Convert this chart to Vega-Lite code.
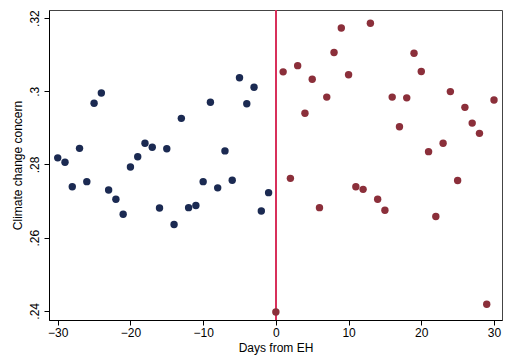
{
  "$schema": "https://vega.github.io/schema/vega-lite/v6.json",
  "autosize": "none",
  "width": 453,
  "height": 310,
  "padding": {"left": 49, "top": 10, "right": 3, "bottom": 36},
  "background": "white",
  "config": {
    "view": {"stroke": "#444", "strokeWidth": 1},
    "font": "Liberation Sans",
    "axis": {
      "grid": false,
      "domainColor": "black",
      "tickColor": "black",
      "labelColor": "black",
      "titleColor": "black",
      "labelFontSize": 12,
      "titleFontSize": 12,
      "titleFontWeight": "normal",
      "tickSize": 5
    }
  },
  "data": {
    "values": [
      {"day": -30, "concern": 0.2818, "group": "pre"},
      {"day": -29, "concern": 0.2806, "group": "pre"},
      {"day": -28, "concern": 0.2739, "group": "pre"},
      {"day": -27, "concern": 0.2844, "group": "pre"},
      {"day": -26, "concern": 0.2753, "group": "pre"},
      {"day": -25, "concern": 0.2967, "group": "pre"},
      {"day": -24, "concern": 0.2995, "group": "pre"},
      {"day": -23, "concern": 0.2730, "group": "pre"},
      {"day": -22, "concern": 0.2705, "group": "pre"},
      {"day": -21, "concern": 0.2664, "group": "pre"},
      {"day": -20, "concern": 0.2793, "group": "pre"},
      {"day": -19, "concern": 0.2821, "group": "pre"},
      {"day": -18, "concern": 0.2858, "group": "pre"},
      {"day": -17, "concern": 0.2847, "group": "pre"},
      {"day": -16, "concern": 0.2681, "group": "pre"},
      {"day": -15, "concern": 0.2843, "group": "pre"},
      {"day": -14, "concern": 0.2636, "group": "pre"},
      {"day": -13, "concern": 0.2926, "group": "pre"},
      {"day": -12, "concern": 0.2682, "group": "pre"},
      {"day": -11, "concern": 0.2688, "group": "pre"},
      {"day": -10, "concern": 0.2753, "group": "pre"},
      {"day": -9, "concern": 0.2970, "group": "pre"},
      {"day": -8, "concern": 0.2736, "group": "pre"},
      {"day": -7, "concern": 0.2837, "group": "pre"},
      {"day": -6, "concern": 0.2757, "group": "pre"},
      {"day": -5, "concern": 0.3037, "group": "pre"},
      {"day": -4, "concern": 0.2966, "group": "pre"},
      {"day": -3, "concern": 0.3011, "group": "pre"},
      {"day": -2, "concern": 0.2673, "group": "pre"},
      {"day": -1, "concern": 0.2723, "group": "pre"},
      {"day": 0, "concern": 0.2397, "group": "post"},
      {"day": 1, "concern": 0.3053, "group": "post"},
      {"day": 2, "concern": 0.2762, "group": "post"},
      {"day": 3, "concern": 0.3070, "group": "post"},
      {"day": 4, "concern": 0.2940, "group": "post"},
      {"day": 5, "concern": 0.3033, "group": "post"},
      {"day": 6, "concern": 0.2682, "group": "post"},
      {"day": 7, "concern": 0.2984, "group": "post"},
      {"day": 8, "concern": 0.3106, "group": "post"},
      {"day": 9, "concern": 0.3173, "group": "post"},
      {"day": 10, "concern": 0.3045, "group": "post"},
      {"day": 11, "concern": 0.2739, "group": "post"},
      {"day": 12, "concern": 0.2732, "group": "post"},
      {"day": 13, "concern": 0.3186, "group": "post"},
      {"day": 14, "concern": 0.2705, "group": "post"},
      {"day": 15, "concern": 0.2675, "group": "post"},
      {"day": 16, "concern": 0.2984, "group": "post"},
      {"day": 17, "concern": 0.2903, "group": "post"},
      {"day": 18, "concern": 0.2982, "group": "post"},
      {"day": 19, "concern": 0.3104, "group": "post"},
      {"day": 20, "concern": 0.3054, "group": "post"},
      {"day": 21, "concern": 0.2835, "group": "post"},
      {"day": 22, "concern": 0.2658, "group": "post"},
      {"day": 23, "concern": 0.2858, "group": "post"},
      {"day": 24, "concern": 0.2999, "group": "post"},
      {"day": 25, "concern": 0.2756, "group": "post"},
      {"day": 26, "concern": 0.2956, "group": "post"},
      {"day": 27, "concern": 0.2913, "group": "post"},
      {"day": 28, "concern": 0.2885, "group": "post"},
      {"day": 29, "concern": 0.2418, "group": "post"},
      {"day": 30, "concern": 0.2976, "group": "post"}
    ]
  },
  "layer": [
    {
      "mark": {"type": "rule", "color": "#d8315b", "strokeWidth": 1.2},
      "encoding": {"x": {"datum": 0, "type": "quantitative", "scale": {"domain": [-31.2, 31.1], "nice": false}}}
    },
    {
      "mark": {"type": "circle", "size": 55, "opacity": 1},
      "encoding": {
        "x": {
          "field": "day",
          "type": "quantitative",
          "title": "Days from EH",
          "scale": {"domain": [-31.2, 31.1], "nice": false},
          "axis": {"values": [-30, -20, -10, 0, 10, 20, 30], "labelPadding": 2, "titlePadding": 4}
        },
        "y": {
          "field": "concern",
          "type": "quantitative",
          "title": "Climate change concern",
          "scale": {"domain": [0.2375, 0.3222], "nice": false, "zero": false},
          "axis": {
            "values": [0.24, 0.26, 0.28, 0.30, 0.32],
            "labelExpr": "substring(format(datum.value, '.2~f'), 1)",
            "labelAngle": -90,
            "labelAlign": "center",
            "labelBaseline": "bottom",
            "labelPadding": 3,
            "titlePadding": 4
          }
        },
        "color": {
          "field": "group",
          "type": "nominal",
          "scale": {"domain": ["pre", "post"], "range": ["#1b2a52", "#8b2f3a"]},
          "legend": null
        }
      }
    }
  ]
}
